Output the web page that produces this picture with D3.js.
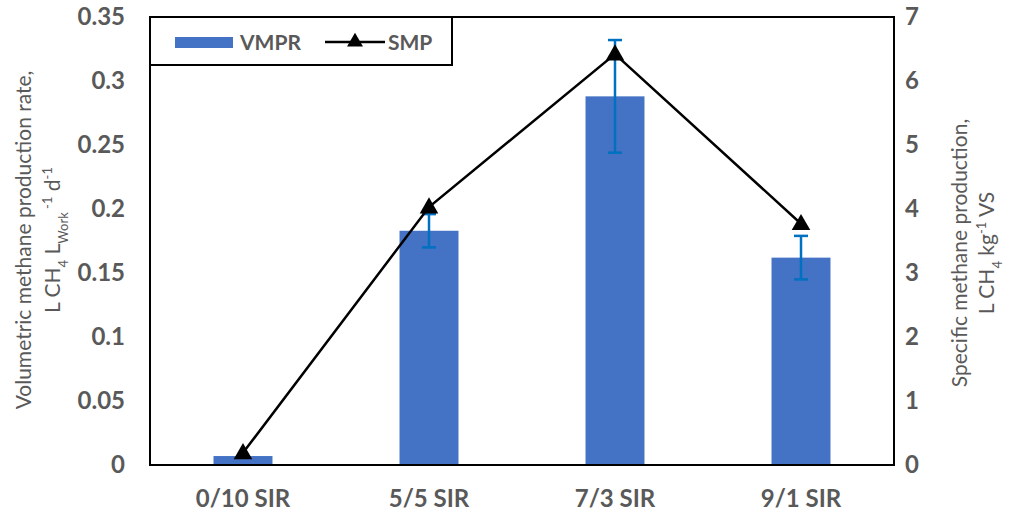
<!DOCTYPE html>
<html><head><meta charset="utf-8">
<script src="https://cdn.jsdelivr.net/npm/d3@7"></script>
<style>body{margin:0;background:#fff}svg{display:block}text{font-family:Lato,"Open Sans",sans-serif}</style>
</head><body>
<svg id="c" width="1010" height="514"></svg>
<script>
const categories = ["0/10 SIR","5/5 SIR","7/3 SIR","9/1 SIR"];
const vmpr = [0.007, 0.183, 0.288, 0.162];
const vmprErr = [0, 0.013, 0.044, 0.017];
const smp = [0.19, 4.03, 6.42, 3.77];
const leftTicks = [0,0.05,0.1,0.15,0.2,0.25,0.3,0.35];
const rightTicks = [0,1,2,3,4,5,6,7];

const svg = d3.select("#c");
const L=150,R=894,T=17,B=465;
const gray="#595959";
const x = d3.scaleBand().domain(categories).range([L,R]).paddingInner(0).paddingOuter(0);
const yL = d3.scaleLinear().domain([0,0.35]).range([B,T]);
const yR = d3.scaleLinear().domain([0,7]).range([B,T]);
const bw = x.bandwidth()*0.317;

// bars
svg.selectAll("rect.bar").data(categories).enter().append("rect")
  .attr("x",d=>x(d)+x.bandwidth()/2-bw/2).attr("width",bw)
  .attr("y",(d,i)=>yL(vmpr[i])).attr("height",(d,i)=>B-yL(vmpr[i]))
  .attr("fill","#4472C4");

// error bars
const eb = svg.append("g").attr("stroke","#0070C0").attr("stroke-width",2.5);
categories.forEach((c,i)=>{
  if(!vmprErr[i]) return;
  const cx=x(c)+x.bandwidth()/2, y1=yL(vmpr[i]-vmprErr[i]), y2=yL(vmpr[i]+vmprErr[i]);
  eb.append("line").attr("x1",cx).attr("x2",cx).attr("y1",y1).attr("y2",y2);
  eb.append("line").attr("x1",cx-7).attr("x2",cx+7).attr("y1",y1).attr("y2",y1);
  eb.append("line").attr("x1",cx-7).attr("x2",cx+7).attr("y1",y2).attr("y2",y2);
});

// line
const line = d3.line().x((d,i)=>x(categories[i])+x.bandwidth()/2).y(d=>yR(d));
svg.append("path").datum(smp).attr("d",line).attr("fill","none").attr("stroke","#000").attr("stroke-width",2.5);
const tri = d3.symbol().type(d3.symbolTriangle).size(150);
svg.selectAll("path.tri").data(smp).enter().append("path")
  .attr("d",tri).attr("transform",(d,i)=>`translate(${x(categories[i])+x.bandwidth()/2},${yR(d)+1})`).attr("fill","#000");

// frame
svg.append("rect").attr("x",L).attr("y",T).attr("width",R-L).attr("height",B-T).attr("fill","none").attr("stroke","#000").attr("stroke-width",2);

// axes
const axL = svg.append("g").attr("transform",`translate(${L},0)`).call(d3.axisLeft(yL).tickValues(leftTicks).tickSize(0).tickPadding(25).tickFormat(d=>String(d)));
const axR = svg.append("g").attr("transform",`translate(${R},0)`).call(d3.axisRight(yR).tickValues(rightTicks).tickSize(0).tickPadding(11).tickFormat(d=>String(d)));
const axB = svg.append("g").attr("transform",`translate(0,${B})`).call(d3.axisBottom(x).tickSize(0).tickPadding(20));
[axL,axR,axB].forEach(a=>{a.select(".domain").remove();a.selectAll("text").attr("fill",gray).style("font-size","24px").style("font-weight","bold").style("font-family","Lato,'Open Sans',sans-serif");});
axB.selectAll("text").attr("dy","0.9em");

// left title
const fs="21px", fss="13px";
svg.append("text").attr("transform","translate(31,240) rotate(-90)").attr("text-anchor","middle").attr("fill",gray).style("font-size",fs).text("Volumetric methane production rate,");
const lt2 = svg.append("text").attr("transform","translate(60,240) rotate(-90)").attr("text-anchor","middle").attr("fill",gray).style("font-size",fs);
lt2.append("tspan").text("L CH");
lt2.append("tspan").attr("baseline-shift","sub").style("font-size",fss).text("4");
lt2.append("tspan").text(" L");
lt2.append("tspan").attr("baseline-shift","sub").style("font-size",fss).text("Work");
lt2.append("tspan").attr("baseline-shift","super").style("font-size",fss).text(" -1");
lt2.append("tspan").text(" d");
lt2.append("tspan").attr("baseline-shift","super").style("font-size",fss).text("-1");

// right title
svg.append("text").attr("transform","translate(967,253) rotate(-90)").attr("text-anchor","middle").attr("fill",gray).style("font-size",fs).text("Specific methane production,");
const rt2 = svg.append("text").attr("transform","translate(994,253) rotate(-90)").attr("text-anchor","middle").attr("fill",gray).style("font-size",fs);
rt2.append("tspan").text("L CH");
rt2.append("tspan").attr("baseline-shift","sub").style("font-size",fss).text("4");
rt2.append("tspan").text(" kg");
rt2.append("tspan").attr("baseline-shift","super").style("font-size",fss).text("-1");
rt2.append("tspan").text(" VS");

// legend
const lg = svg.append("g");
lg.append("rect").attr("x",150).attr("y",17).attr("width",302).attr("height",48).attr("fill","#fff").attr("stroke","#000").attr("stroke-width",2);
lg.append("rect").attr("x",175).attr("y",37).attr("width",58).attr("height",11).attr("fill","#4472C4");
lg.append("text").attr("x",240).attr("y",50).attr("fill",gray).style("font-size","21px").style("font-weight","bold").text("VMPR");
lg.append("line").attr("x1",325).attr("x2",385).attr("y1",42).attr("y2",42).attr("stroke","#000").attr("stroke-width",2.5);
lg.append("path").attr("d",d3.symbol().type(d3.symbolTriangle).size(110)).attr("transform","translate(355,42)").attr("fill","#000");
lg.append("text").attr("x",388).attr("y",50).attr("fill",gray).style("font-size","21px").style("font-weight","bold").text("SMP");
</script>
</body></html>
